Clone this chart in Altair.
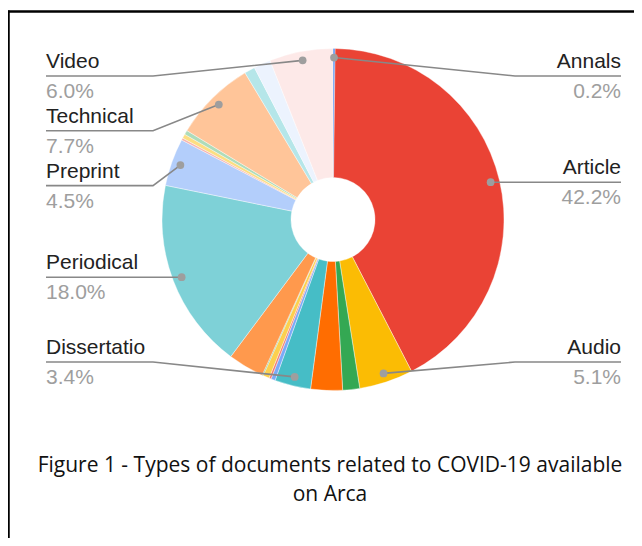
import math
import altair as alt
import pandas as pd

# ---------------- data ----------------
names = ["Annals", "Article", "Audio", "Book", "Chapter", "Dissertatio", "Event",
         "Image", "Interview", "Lecture", "Other", "Periodical", "Preprint",
         "Presentation", "Report", "Software", "Technical", "Thesis", "Tutorial", "Video"]
shares = [0.2, 42.2, 5.1, 1.6, 3.0, 3.4, 0.4, 0.2, 0.6, 0.1, 3.4, 18.0, 4.5,
          0.2, 0.4, 0.4, 7.7, 1.0, 1.6, 6.0]
colors = ["#4285F4", "#EA4335", "#FBBC04", "#34A853", "#FF6D01", "#46BDC6", "#7BAAF7",
          "#F07B72", "#FCD04F", "#71C287", "#FF994D", "#7ED1D7", "#B3CEFB",
          "#F7B4AE", "#FDDE82", "#AEDCBA", "#FFC599", "#B5E6E9", "#ECF3FE", "#FDE9E8"]
labeled = ["Annals", "Article", "Audio", "Dissertatio", "Periodical", "Preprint",
           "Technical", "Video"]
caption_lines = ["Figure 1 - Types of documents related to COVID-19 available", "on Arca"]

# ---------------- layout ----------------
W, H = 626, 530
CX, CY = 325, 211.5
R_OUT, R_IN, R_DOT = 171, 42, 162
LEFT_X, RIGHT_X = 38, 613
ELBOW_L, ELBOW_R = 145, 507
TOP_Y, BOT_Y, GAP = 68, 354, 54.8
FONT = "Liberation Sans"

df = pd.DataFrame({"idx": range(len(names)), "name": names, "share": shares})

# label anchor points derived from the slice mid-angles
total = sum(shares)
cum = 0.0
rows = []
for n, v in zip(names, shares):
    a = 2 * math.pi * (cum + v / 2) / total
    cum += v
    if n in labeled:
        dx, dy = CX + R_DOT * math.sin(a), CY - R_DOT * math.cos(a)
        side = "L" if math.sin(a) < 0 else "R"
        rows.append({"name": n, "pct": f"{v:.1f}%", "dx": dx, "dy": dy, "side": side})

lab = pd.DataFrame(rows)
lab["ly"] = lab["dy"]
for side in ["L", "R"]:
    sub = lab[lab.side == side].sort_values("dy")
    ys = list(sub["dy"])
    prev = None
    for i in range(len(ys)):
        lo = TOP_Y if prev is None else prev + GAP
        ys[i] = max(ys[i], lo)
        prev = ys[i]
    nxt = None
    for i in reversed(range(len(ys))):
        hi = BOT_Y if nxt is None else nxt - GAP
        ys[i] = min(ys[i], hi)
        nxt = ys[i]
    lab.loc[sub.index, "ly"] = ys
lab["lx"] = lab.side.map({"L": LEFT_X, "R": RIGHT_X})
lab["ex"] = lab.side.map({"L": ELBOW_L, "R": ELBOW_R})

lines = []
for _, r in lab.iterrows():
    lines.append({"name": r["name"], "step": 0, "x": r["lx"], "y": r["ly"]})
    lines.append({"name": r["name"], "step": 1, "x": r["ex"], "y": r["ly"]})
    lines.append({"name": r["name"], "step": 2, "x": r["dx"], "y": r["dy"]})
lines = pd.DataFrame(lines)

cap = pd.DataFrame({"text": caption_lines, "i": range(len(caption_lines))})
cap["y"] = 458 + 29 * cap["i"]
cap["x"] = 322

xs = alt.Scale(domain=[0, W], range=[0, W], nice=False, zero=False)
ys_ = alt.Scale(domain=[0, H], range=[0, H], nice=False, zero=False)

pie = alt.Chart(df).mark_arc(outerRadius=R_OUT, innerRadius=R_IN, x=CX, y=CY,
                             stroke="#ffffff", strokeWidth=0.4).encode(
    theta=alt.Theta("share:Q", stack=True),
    color=alt.Color("name:N", scale=alt.Scale(domain=names, range=colors), legend=None),
    order=alt.Order("idx:Q"),
)

leader = alt.Chart(lines).mark_line(color="#888888", strokeWidth=1.6).encode(
    x=alt.X("x:Q", scale=xs, axis=None),
    y=alt.Y("y:Q", scale=ys_, axis=None),
    detail="name:N",
    order="step:Q",
)

dots = alt.Chart(lab).mark_circle(color="#9e9e9e", opacity=1, size=60).encode(
    x=alt.X("dx:Q", scale=xs, axis=None),
    y=alt.Y("dy:Q", scale=ys_, axis=None),
)

def texts(side, align):
    base = alt.Chart(lab[lab.side == side])
    nm = base.mark_text(align=align, baseline="alphabetic", dy=-8, font=FONT,
                        fontSize=21, color="#222222").encode(
        x=alt.X("lx:Q", scale=xs, axis=None), y=alt.Y("ly:Q", scale=ys_, axis=None),
        text="name:N")
    pc = base.mark_text(align=align, baseline="alphabetic", dy=22, font=FONT,
                        fontSize=21, color="#9e9e9e").encode(
        x=alt.X("lx:Q", scale=xs, axis=None), y=alt.Y("ly:Q", scale=ys_, axis=None),
        text="pct:N")
    return nm + pc

caption = alt.Chart(cap).mark_text(align="center", baseline="middle", font="Open Sans",
                                   fontSize=21, color="#111111").encode(
    x=alt.X("x:Q", scale=xs, axis=None), y=alt.Y("y:Q", scale=ys_, axis=None),
    text="text:N")

border_top = alt.Chart(df.head(1)).mark_rule(color="#000000", strokeWidth=2.5).encode(
    x=alt.value(0), x2=alt.value(W), y=alt.value(3.5))
border_left = alt.Chart(df.head(1)).mark_rule(color="#000000", strokeWidth=2.5).encode(
    x=alt.value(0.5), y=alt.value(2.5), y2=alt.value(H))

chart = alt.layer(pie, leader, dots, texts("L", "left"), texts("R", "right"),
                  caption, border_top, border_left).properties(
    width=W, height=H, padding=0, autosize=alt.AutoSizeParams(type="none"),
    background="#ffffff",
).configure_view(stroke=None)

chart.save("out.html", embed_options={"renderer": "svg", "actions": False})
